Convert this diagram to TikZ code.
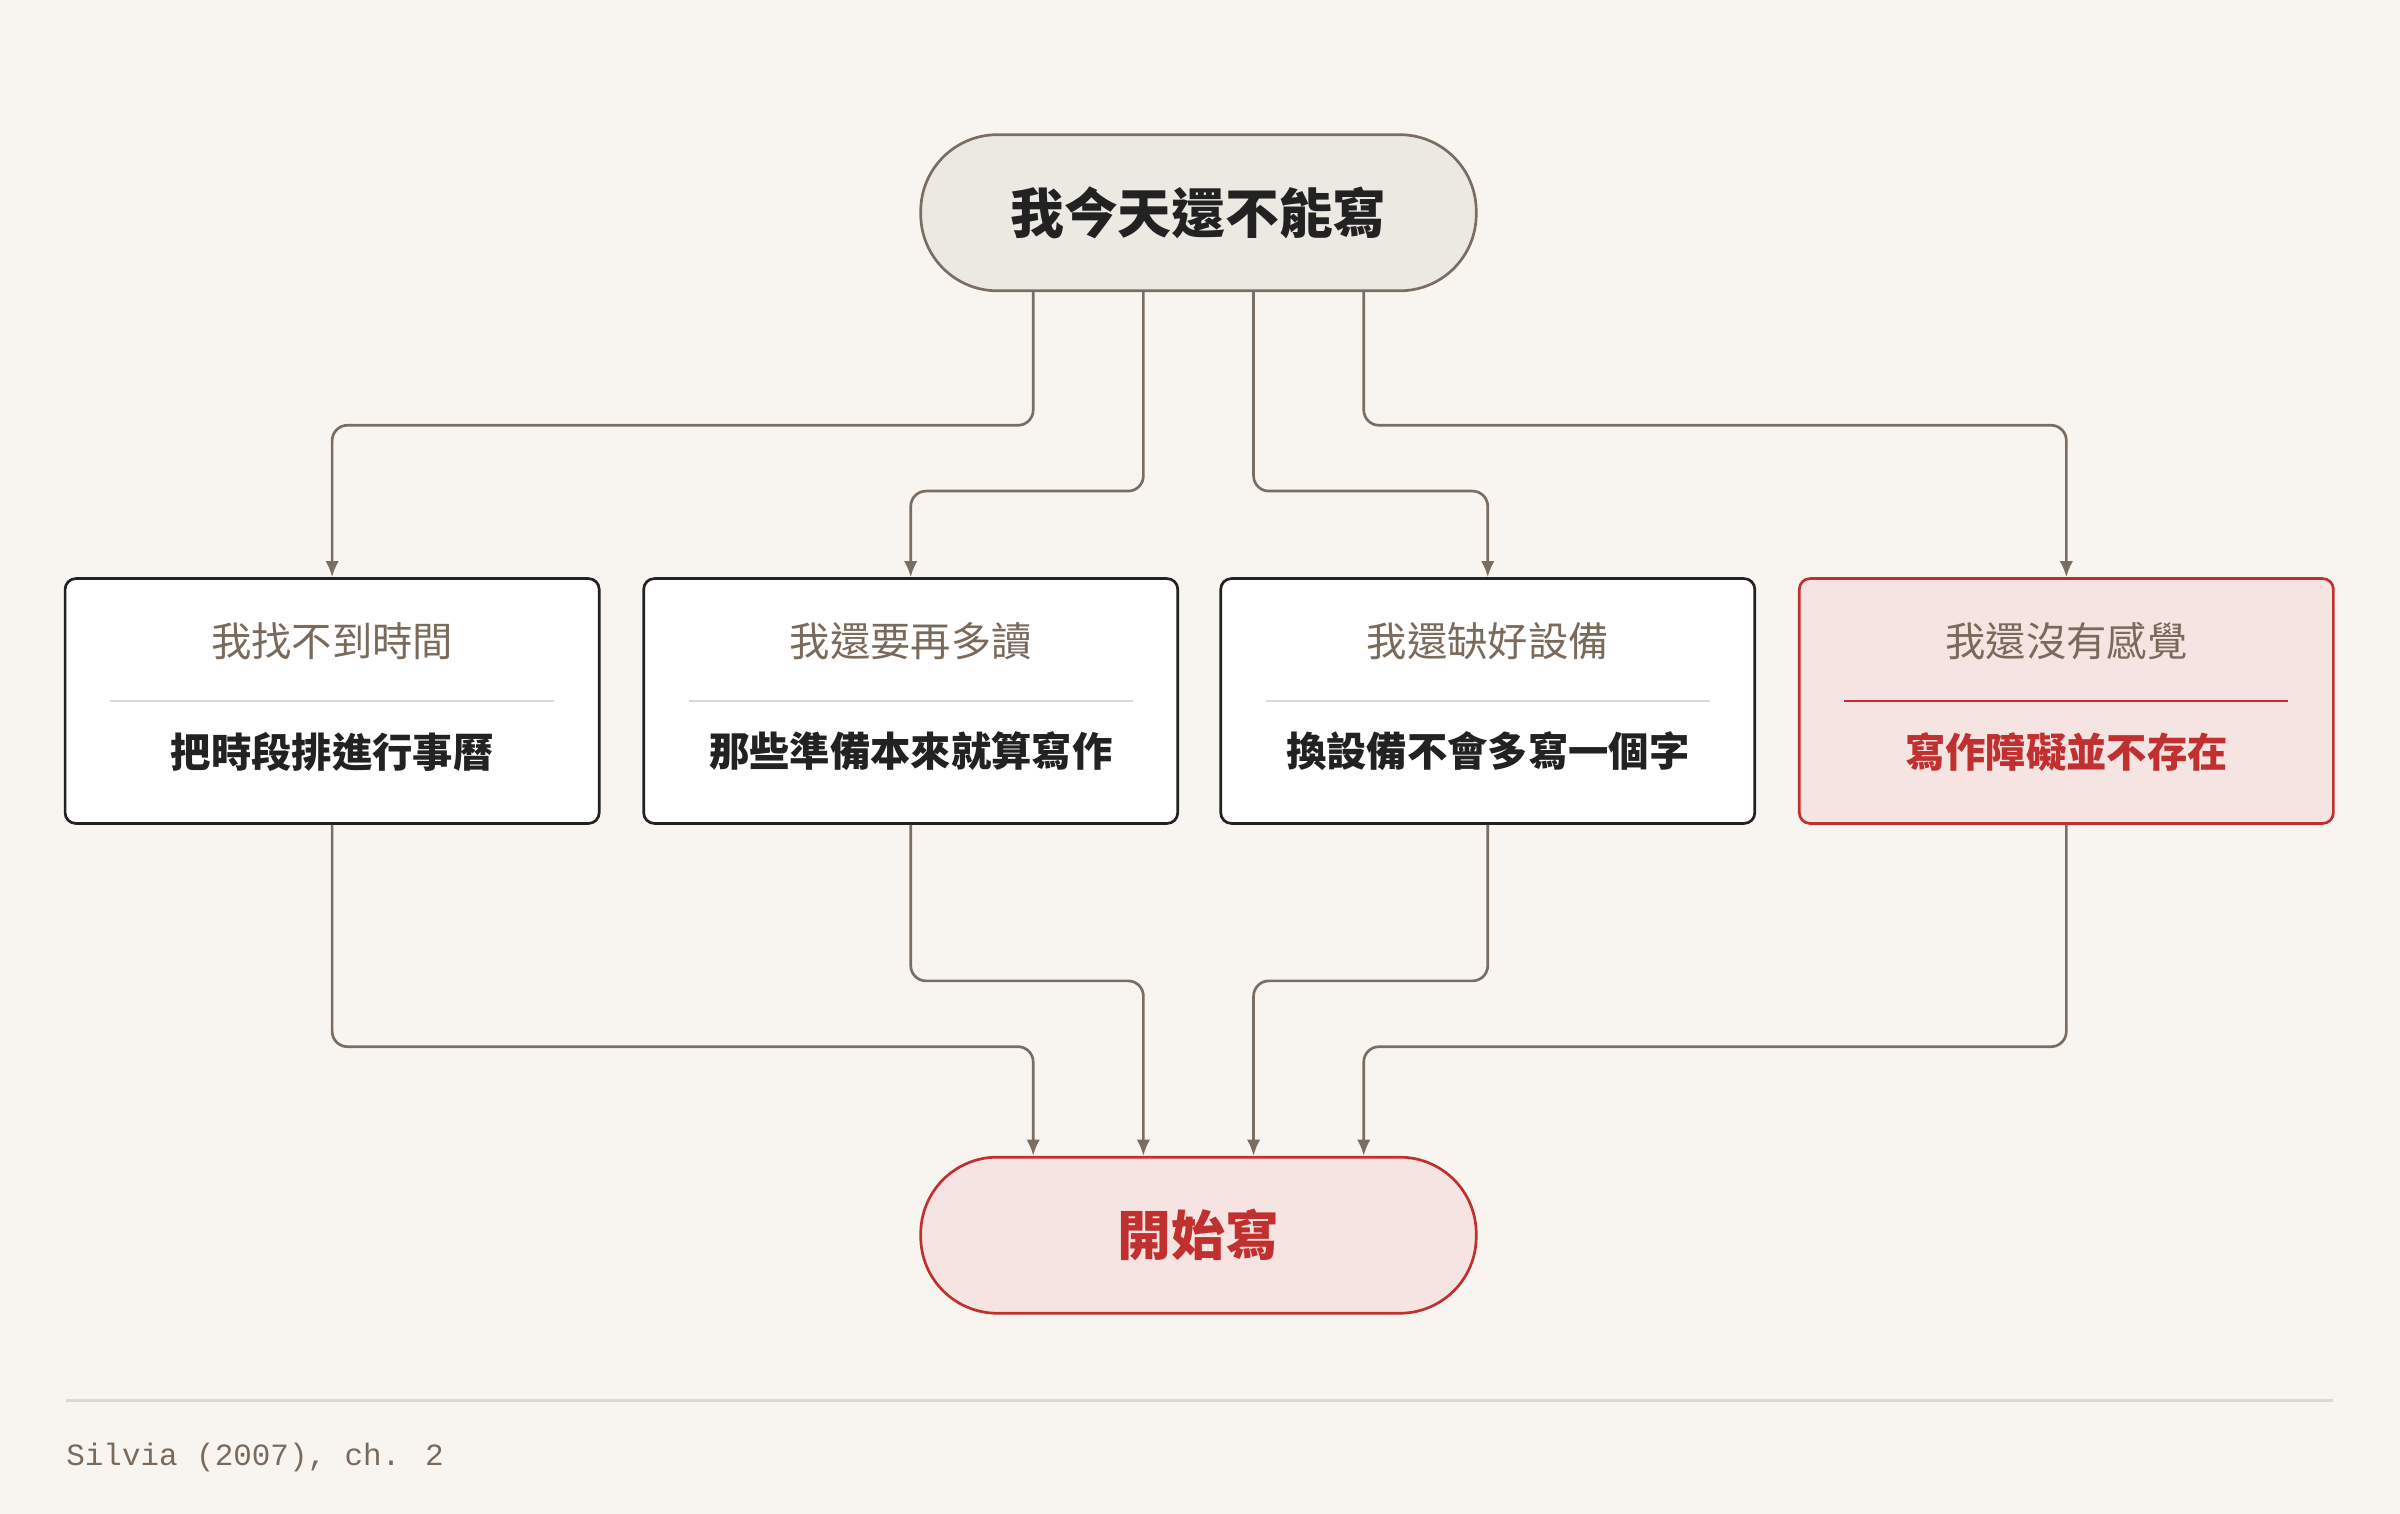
\documentclass[tikz,border=0pt]{standalone}
\usepackage{fontspec}
\setmainfont{Noto Sans CJK TC}
\newfontfamily\monofont{Liberation Mono}
\usetikzlibrary{positioning, arrows.meta, calc}
\definecolor{bgc}{HTML}{F8F5F1}
\definecolor{linec}{HTML}{7A6E62}
\definecolor{topfill}{HTML}{ECE9E3}
\definecolor{redc}{HTML}{C0302F}
\definecolor{redfill}{HTML}{F5E4E2}
\definecolor{titlec}{HTML}{7A6A5C}
\definecolor{inkc}{HTML}{222222}
\definecolor{rulec}{HTML}{DDD8D2}
\tikzset{
  pill/.style={draw=linec, fill=topfill, line width=1pt, rounded corners=1cm,
    minimum width=7.26cm, minimum height=2.04cm, font=\fontsize{20}{24}\selectfont\bfseries, text=inkc},
  box/.style={draw=inkc, fill=white, line width=1pt, rounded corners=0.14cm,
    minimum width=6.98cm, minimum height=3.2cm},
  redbox/.style={box, draw=redc, fill=redfill},
  title/.style={font=\fontsize{15}{18}\selectfont, text=titlec},
  body/.style={font=\fontsize{15}{18}\selectfont\bfseries, text=inkc},
  conn/.style={draw=linec, line width=1pt, rounded corners=0.2cm, -{Latex[length=6pt,width=5pt]}}
}
\begin{document}
\begin{tikzpicture}[x=0.02cm, y=-0.02cm]
  \fill[bgc] (0,0) rectangle (1568,989);
  \useasboundingbox (0,0) rectangle (1568,989);

  \node [pill] (top) at (783,139) {我今天還不能寫};
  \node [pill, draw=redc, fill=redfill, text=redc] (bot) at (783,807) {開始寫};

  \node [box] (b1) at (217,458) {};
  \node [box] (b2) at (595,458) {};
  \node [box] (b3) at (972,458) {};
  \node [redbox] (b4) at (1350,458) {};

  \foreach \b/\t/\s in {b1/我找不到時間/把時段排進行事曆, b2/我還要再多讀/那些準備本來就算寫作, b3/我還缺好設備/換設備不會多寫一個字}{
    \node [title] (\b t) at ($(\b.center)+(0,0.78cm)$) {\t};
    \node [body] (\b s) at ($(\b.center)+(0,-0.66cm)$) {\s};
    \draw [rulec, line width=0.6pt] ($(\b.center)+(-2.9cm,0)$) -- ($(\b.center)+(2.9cm,0)$);
  }
  \node [title] (b4t) at ($(b4.center)+(0,0.78cm)$) {我還沒有感覺};
  \node [body, text=redc] (b4s) at ($(b4.center)+(0,-0.66cm)$) {寫作障礙並不存在};
  \draw [redc, line width=0.8pt] ($(b4.center)+(-2.9cm,0)$) -- ($(b4.center)+(2.9cm,0)$);

  % top to boxes
  \draw [conn] ([xshift=-2.16cm]top.south) -- ++(0,-1.74cm) -| (b1.north);
  \draw [conn] ([xshift=-0.72cm]top.south) -- ++(0,-2.6cm) -| (b2.north);
  \draw [conn] ([xshift=0.72cm]top.south) -- ++(0,-2.6cm) -| (b3.north);
  \draw [conn] ([xshift=2.16cm]top.south) -- ++(0,-1.74cm) -| (b4.north);

  % boxes to bottom
  \draw [conn] (b1.south) -- ++(0,-2.9cm) -| ([xshift=-2.16cm]bot.north);
  \draw [conn] (b2.south) -- ++(0,-2.04cm) -| ([xshift=-0.72cm]bot.north);
  \draw [conn] (b3.south) -- ++(0,-2.04cm) -| ([xshift=0.72cm]bot.north);
  \draw [conn] (b4.south) -- ++(0,-2.9cm) -| ([xshift=2.16cm]bot.north);

  \draw [rulec, line width=1pt] (43,915) -- (1524,915);
  \node [anchor=west, inner sep=0, font=\monofont\fontsize{11.5}{14}\selectfont, text=titlec] (src) at (43,952) {Silvia (2007), ch. 2};
\end{tikzpicture}
\end{document}
